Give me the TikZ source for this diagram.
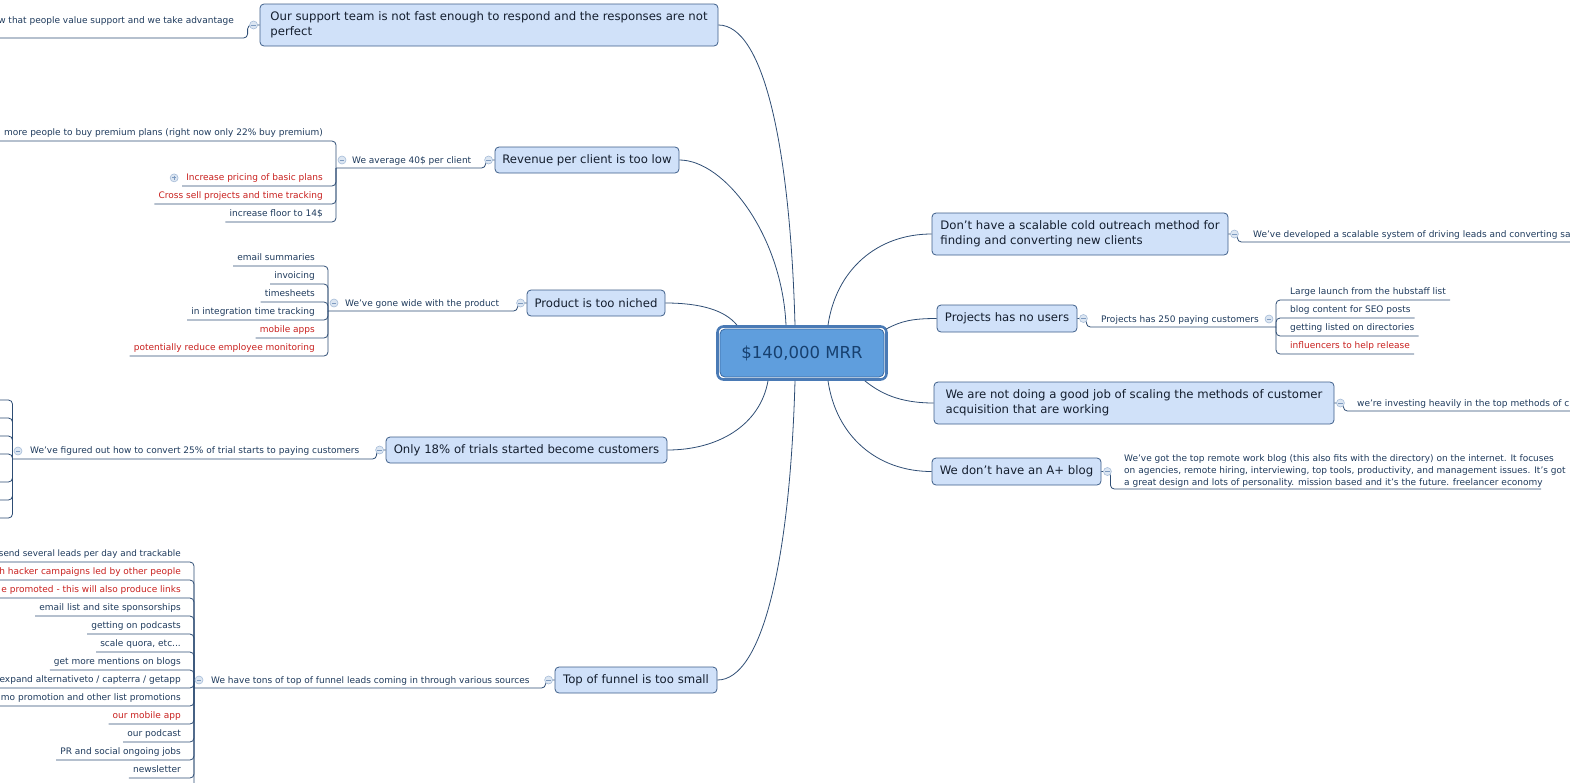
\documentclass[tikz,border=0pt]{standalone}
\usepackage{fontspec}
\setmainfont{DejaVu Sans}
\newcommand\topicfont{\fontsize{11.7}{15}\selectfont}
\newcommand\leaffont{\fontsize{9}{12}\selectfont}
\newcommand\mrrfont{\fontsize{16.5}{20}\selectfont}
\definecolor{navy}{HTML}{1E3A5C}
\definecolor{topictext}{HTML}{141E2E}
\definecolor{linecol}{HTML}{2E4D74}
\definecolor{redtxt}{HTML}{C8201E}
\definecolor{topicfill}{HTML}{D0E1F9}
\definecolor{topicborder}{HTML}{3D5E89}
\definecolor{centerfill}{HTML}{5F9EDD}
\definecolor{centerborder}{HTML}{3B6AA3}
\definecolor{framecol}{HTML}{4A7AB5}
\definecolor{centertext}{HTML}{17406F}
\definecolor{cfill}{HTML}{DCE6F2}
\definecolor{cborder}{HTML}{A6BCD8}
\definecolor{cmark}{HTML}{7E9BC0}
\begin{document}
\begin{tikzpicture}[x=1pt,y=-1pt,
  topic/.style={draw=topicborder, fill=topicfill, rounded corners=4pt, line width=0.8pt,
    inner xsep=7pt, inner ysep=0pt, align=left, font=\topicfont, text=topictext},
  subt/.style={font=\leaffont, text=navy, inner sep=0pt},
  leafl/.style={font=\leaffont, inner xsep=4pt, inner ysep=0pt, text depth=5pt, anchor=south east},
  leafr/.style={font=\leaffont, inner xsep=4pt, inner ysep=0pt, text depth=5pt, anchor=south west},
  conn/.style={draw=linecol, line width=0.8pt, rounded corners=4pt},
  branch/.style={draw=linecol, line width=0.8pt},
  pics/cminus/.style={code={\draw[fill=cfill, draw=cborder, line width=0.6pt] (0,0) circle (4);
      \draw[draw=cmark, line width=0.8pt] (-2.2,0) -- (2.2,0);}},
  pics/cplus/.style={code={\draw[fill=cfill, draw=cborder, line width=0.6pt] (0,0) circle (4);
      \draw[draw=cmark, line width=0.8pt] (-2.2,0) -- (2.2,0) (0,-2.2) -- (0,2.2);}}
]
\useasboundingbox (0,0) rectangle (1570,782);
\clip (0,0) rectangle (1570,782);

% central node
\node[draw=framecol, line width=2.6pt, fill=white, rounded corners=6pt,
  minimum width=169pt, minimum height=53pt] (cf) at (802,353) {};
\node[draw=centerborder, line width=0.8pt, fill=centerfill, rounded corners=5pt,
  minimum width=164pt, minimum height=48pt, font=\mrrfont, text=centertext] (c) at (802,353) {\$140,000 MRR};

% main topics
\node[topic, minimum width=458pt, minimum height=42pt] (sup) at (489,25)
  {Our support team is not fast enough to respond and the responses are not\\perfect};
\node[topic, minimum width=184pt, minimum height=26pt] (rev) at (587,160) {Revenue per client is too low};
\node[topic, minimum width=138pt, minimum height=26pt] (prod) at (596,303) {Product is too niched};
\node[topic, minimum width=281pt, minimum height=26pt] (trial) at (526.5,450) {Only 18\% of trials started become customers};
\node[topic, minimum width=162pt, minimum height=26pt] (fun) at (636,680) {Top of funnel is too small};
\node[topic, minimum width=296pt, minimum height=42pt] (out) at (1080,234)
  {Don't have a scalable cold outreach method for\\finding and converting new clients};
\node[topic, minimum width=140pt, minimum height=27pt] (proj) at (1007,318.5) {Projects has no users};
\node[topic, minimum width=400pt, minimum height=42pt] (scale) at (1134,403)
  {We are not doing a good job of scaling the methods of customer\\acquisition that are working};
\node[topic, minimum width=169pt, minimum height=27pt] (blog) at (1016.5,471.5) {We don't have an A+ blog};

% branches from center
\draw[branch] ([xshift=-7pt]cf.north) .. controls +(-5,-180) and +(45,0) .. (sup.east);
\draw[branch] ([xshift=-16pt]cf.north) .. controls +(-4,-90) and +(45,0) .. (rev.east);
\draw[branch] ([xshift=-65pt]cf.north) .. controls +(-12,-15) and +(35,0) .. (prod.east);
\draw[branch] ([xshift=-34pt]cf.south) .. controls +(-8,45) and +(50,0) .. (trial.east);
\draw[branch] ([xshift=-7pt]cf.south) .. controls +(-5,180) and +(45,0) .. (fun.east);
\draw[branch] ([xshift=26pt]cf.north) .. controls +(8,-55) and +(-55,0) .. (out.west);
\draw[branch] ([xshift=-2pt,yshift=-4pt]cf.north east) .. controls +(15,-8) and +(-25,0) .. (proj.west);
\draw[branch] ([xshift=-23pt]cf.south east) .. controls +(15,12) and +(-35,0) .. (scale.west);
\draw[branch] ([xshift=26pt]cf.south) .. controls +(8,55) and +(-55,0) .. (blog.west);

% ---- support
\coordinate (supP) at (-20,38);
\node[subt, anchor=base east] (supsub) at (234,23) {w that people value support and we take advantage};
\draw[conn] (sup.west) -- ++(-12,0) |- (supP);

% ---- revenue
\coordinate (revP) at (336,168);
\node[subt, anchor=base west] (revsub) at (352,163) {We average 40\$ per client};
\draw[conn] (rev.west) -- ++(-9,0) |- (revP);
\foreach \t/\y/\c [count=\i] in {{more people to buy premium plans (right now only 22\% buy premium)}/133/navy,
  {Increase pricing of basic plans}/178/redtxt, {Cross sell projects and time tracking}/196/redtxt,
  {increase floor to 14\$}/214/navy}{
  \node[leafl, text=\c] (rl\i) at (327,{\y+8}) {\t};
  \draw[conn] (revP) |- (rl\i.south west);
}
\pic at ([xshift=-8pt,yshift=2pt]rl2.west) {cplus};

% ---- product
\coordinate (prodP) at (328,311);
\node[subt, anchor=base west] (prodsub) at (345,306) {We've gone wide with the product};
\draw[conn] (prod.west) -- ++(-9,0) |- (prodP);
\foreach \t/\y/\c [count=\i] in {{email summaries}/258/navy, {invoicing}/276/navy, {timesheets}/294/navy,
  {in integration time tracking}/312/navy, {mobile apps}/330/redtxt,
  {potentially reduce employee monitoring}/348/redtxt}{
  \node[leafl, text=\c] (pl\i) at (319,{\y+8}) {\t};
  \draw[conn] (prodP) |- (pl\i.south west);
}

% ---- trials
\coordinate (trialP) at (12.5,459);
\node[subt, anchor=base west] (trialsub) at (30,453) {We've figured out how to convert 25\% of trial starts to paying customers};
\draw[conn] (trial.west) -- ++(-9,0) |- (trialP);
\foreach \y [count=\i] in {400,418,436,454,482,500,518}{
  \coordinate (tl\i) at (-20,\y);
  \draw[conn] (trialP) |- (tl\i);
}

% ---- funnel
\coordinate (funP) at (194,688);
\node[subt, anchor=base west] (funsub) at (211,683) {We have tons of top of funnel leads coming in through various sources};
\draw[conn] (fun.west) -- ++(-9,0) |- (funP);
\foreach \t/\y/\c [count=\i] in {{\fontsize{8.8}{12}\selectfont send several leads per day and trackable}/554/navy,
  {h hacker campaigns led by other people}/572/redtxt,
  {e promoted - this will also produce links}/590/redtxt,
  {email list and site sponsorships}/608/navy,
  {getting on podcasts}/626/navy,
  {scale quora, etc...}/644/navy,
  {get more mentions on blogs}/662/navy,
  {expand alternativeto / capterra / getapp}/680/navy,
  {mo promotion and other list promotions}/698/navy,
  {our mobile app}/716/redtxt,
  {our podcast}/734/navy,
  {PR and social ongoing jobs}/752/navy,
  {newsletter}/770/navy}{
  \node[leafl, text=\c] (fl\i) at (185,{\y+8}) {\t};
  \draw[conn] (funP) |- (fl\i.south west);
}
\coordinate (fl14) at (120,796);
\draw[conn] (funP) |- (fl14);

% ---- outreach
\coordinate (outP) at (1590,242);
\node[subt, anchor=base west] (outsub) at (1253,237) {We've developed a scalable system of driving leads and converting sa};
\draw[conn] (out.east) -- ++(9,0) |- (outP);

% ---- projects
\coordinate (projP) at (1276,327);
\node[subt, anchor=base west] (projsub) at (1101,322) {Projects has 250 paying customers};
\draw[conn] (proj.east) -- ++(9,0) |- (projP);
\foreach \t/\y/\c [count=\i] in {{Large launch from the hubstaff list}/292/navy,
  {blog content for SEO posts}/310/navy, {getting listed on directories}/328/navy,
  {influencers to help release}/346/redtxt}{
  \node[leafr, text=\c] (jl\i) at (1286,{\y+8}) {\t};
  \draw[conn] (projP) |- (jl\i.south east);
}

% ---- scaling
\coordinate (scaleP) at (1590,411);
\node[subt, anchor=base west] (scalesub) at (1357,406) {we're investing heavily in the top methods of c};
\draw[conn] (scale.east) -- ++(9,0) |- (scaleP);

% ---- blog
\node[subt, anchor=south west, align=left, inner ysep=1.5pt] (blogsub) at (1124,489)
  {We've got the top remote work blog (this also fits with the directory) on the internet. It focuses\\
   on agencies, remote hiring, interviewing, top tools, productivity, and management issues. It's got\\
   a great design and lots of personality. mission based and it's the future. freelancer economy};
\coordinate (blogE) at (1541,489);
\draw[conn] (blog.east) -- ++(9,0) |- (blogE);

% collapse markers
\pic at ([xshift=-6pt]sup.west) {cminus};
\pic at ([xshift=-6pt]rev.west) {cminus};
\pic at ([xshift=-6pt]prod.west) {cminus};
\pic at ([xshift=-6pt]trial.west) {cminus};
\pic at ([xshift=-6pt]fun.west) {cminus};
\pic at ([xshift=6pt]out.east) {cminus};
\pic at ([xshift=6pt]proj.east) {cminus};
\pic at ([xshift=6pt]scale.east) {cminus};
\pic at ([xshift=6pt]blog.east) {cminus};
\pic at (342,160) {cminus};
\pic at (334,303) {cminus};
\pic at (18,451) {cminus};
\pic at (199,680) {cminus};
\pic at (1269,319) {cminus};
\end{tikzpicture}
\end{document}
